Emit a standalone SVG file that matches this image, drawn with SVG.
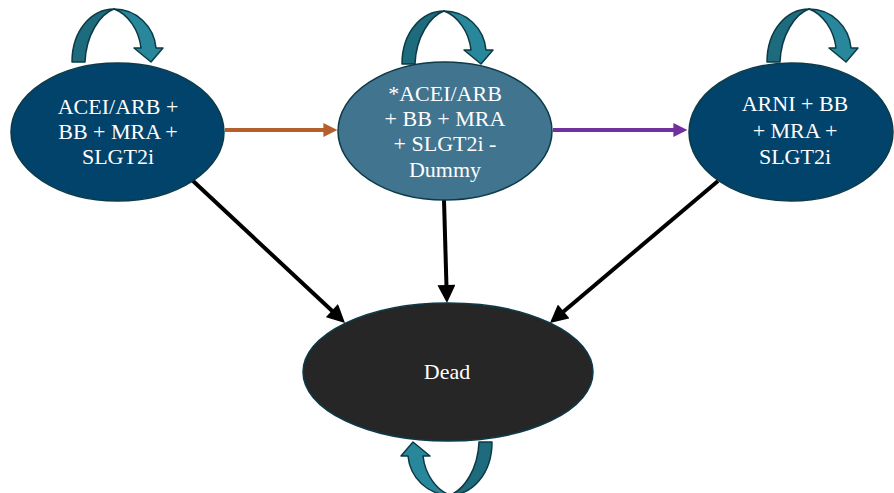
<svg xmlns="http://www.w3.org/2000/svg" xmlns:xlink="http://www.w3.org/1999/xlink" width="894" height="493" viewBox="0 0 894 493">
  <style>
    .state { stroke: #0c3a48; stroke-width: 1.5; }
    .navy { fill: #02436b; }
    .steel { fill: #41748f; }
    .dead { fill: #262626; }
    .label { font-size: 22px; fill: #ffffff; text-anchor: middle; }
    .loop-back { fill: #1d6b7d; stroke: #0b3a45; stroke-width: 1.5; stroke-linejoin: round; }
    .loop-front { fill: #28879b; stroke: #0b3a45; stroke-width: 1.5; stroke-linejoin: round; }
    .edge { fill: none; stroke-width: 4; }
  </style>
  <defs>
    <!-- curved self-transition arrow, drawn once and placed per state -->
    <g id="selfLoop">
      <path class="loop-back" d="M72,62 C72,30 92,9 114,9 C100,14 86,35 85,62 Z"/>
      <path class="loop-front" d="M114,9 C136,9 154,26 156,48 L163,48 L151,62 L134,48 L141,48 C139,30 128,14 114,9 Z"/>
    </g>
    <marker id="headOrange" viewBox="0 0 10 10" refX="4" refY="5" markerUnits="userSpaceOnUse" markerWidth="15" markerHeight="14" orient="auto">
      <path d="M0,0 L10,5 L0,10 Z" fill="#b5602c"/>
    </marker>
    <marker id="headPurple" viewBox="0 0 10 10" refX="4" refY="5" markerUnits="userSpaceOnUse" markerWidth="15" markerHeight="14" orient="auto">
      <path d="M0,0 L10,5 L0,10 Z" fill="#7030a0"/>
    </marker>
    <marker id="headBlack" viewBox="0 0 10 10" refX="5" refY="5" markerUnits="userSpaceOnUse" markerWidth="19" markerHeight="18" orient="auto">
      <path d="M0,0 L10,5 L0,10 Z" fill="#000000"/>
    </marker>
  </defs>

  <g id="connectors">
    <line class="edge" x1="225" y1="130" x2="329" y2="130" stroke="#b5602c" marker-end="url(#headOrange)"/>
    <line class="edge" x1="553" y1="130" x2="679" y2="130" stroke="#7030a0" marker-end="url(#headPurple)"/>
    <line class="edge" x1="192" y1="180" x2="338.4" y2="316.8" stroke="#000000" stroke-width="4.5" marker-end="url(#headBlack)"/>
    <line class="edge" x1="444" y1="200" x2="446.7" y2="294" stroke="#000000" stroke-width="4.5" marker-end="url(#headBlack)"/>
    <line class="edge" x1="718" y1="181" x2="556.8" y2="317.2" stroke="#000000" stroke-width="4.5" marker-end="url(#headBlack)"/>
  </g>

  <g id="loops">
    <use xlink:href="#selfLoop"/>
    <use xlink:href="#selfLoop" transform="translate(330,2)"/>
    <use xlink:href="#selfLoop" transform="translate(695,0)"/>
    <use xlink:href="#selfLoop" transform="rotate(180,282,252)"/>
  </g>

  <g font-family="'Liberation Serif', 'Times New Roman', 'DejaVu Serif', serif">
    <g id="state-acei">
      <ellipse class="state navy" cx="117.5" cy="132" rx="106.5" ry="69"/>
      <text class="label" x="118" y="114">ACEI/ARB +</text>
      <text class="label" x="118" y="139">BB + MRA +</text>
      <text class="label" x="118" y="164">SLGT2i</text>
    </g>

    <g id="state-dummy">
      <ellipse class="state steel" cx="445" cy="131" rx="107" ry="69"/>
      <text class="label" x="445" y="101">*ACEI/ARB</text>
      <text class="label" x="445" y="126">+ BB + MRA</text>
      <text class="label" x="445" y="151">+ SLGT2i -</text>
      <text class="label" x="445" y="177">Dummy</text>
    </g>

    <g id="state-arni">
      <ellipse class="state navy" cx="791" cy="132" rx="102" ry="69"/>
      <text class="label" x="795" y="111">ARNI + BB</text>
      <text class="label" x="795" y="138">+ MRA +</text>
      <text class="label" x="795" y="164">SLGT2i</text>
    </g>

    <g id="state-dead">
      <ellipse class="state dead" cx="448" cy="372" rx="145" ry="69"/>
      <text class="label" x="447" y="379">Dead</text>
    </g>
  </g>
</svg>
